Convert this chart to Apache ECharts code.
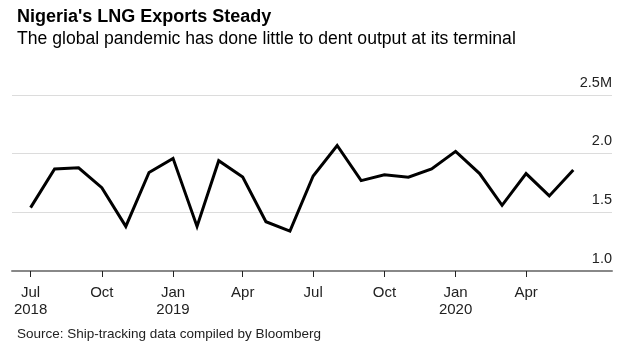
<!DOCTYPE html>
<html>
<head>
<meta charset="utf-8">
<script src="https://cdn.jsdelivr.net/npm/echarts@6/dist/echarts.min.js"></script>
<style>html,body{margin:0;padding:0;background:#fff}#c{width:634px;height:343px}</style>
</head>
<body>
<div id="c"></div>
<script>
const months = ['2018-07-01','2018-08-01','2018-09-01','2018-10-01','2018-11-01','2018-12-01',
  '2019-01-01','2019-02-01','2019-03-01','2019-04-01','2019-05-01','2019-06-01',
  '2019-07-01','2019-08-01','2019-09-01','2019-10-01','2019-11-01','2019-12-01',
  '2020-01-01','2020-02-01','2020-03-01','2020-04-01','2020-05-01','2020-06-01'];
const lngExports = [1.54,1.87,1.88,1.71,1.38,1.84,1.96,1.38,1.94,1.80,1.42,1.34,
  1.81,2.07,1.77,1.82,1.80,1.87,2.02,1.83,1.56,1.83,1.64,1.86];
const tickDates = ['2018-07-01','2018-10-01','2019-01-01','2019-04-01','2019-07-01','2019-10-01','2020-01-01','2020-04-01'];
const tickLabels = ['Jul\n2018','Oct','Jan\n2019','Apr','Jul','Oct','Jan\n2020','Apr'];
const yTicks = [1.0, 1.5, 2.0, 2.5];

const P = s => Date.parse(s + 'T00:00:00Z');
const tickTs = tickDates.map(P);
const fontFam = '"Liberation Sans",Arial,sans-serif';

const chart = echarts.init(document.getElementById('c'), null, {renderer: 'canvas'});
chart.setOption({
  animation: false,
  backgroundColor: '#fff',
  title: [{
    text: "Nigeria's LNG Exports Steady",
    subtext: 'The global pandemic has done little to dent output at its terminal',
    left: 12, top: 3, itemGap: 4,
    textStyle: {fontFamily: fontFam, fontSize: 18, fontWeight: 'bold', color: '#000'},
    subtextStyle: {fontFamily: fontFam, fontSize: 17.6, color: '#000'}
  }, {
    text: 'Source: Ship-tracking data compiled by Bloomberg',
    left: 12, top: 322,
    textStyle: {fontFamily: fontFam, fontSize: 13.5, fontWeight: 'normal', color: '#222'}
  }],
  grid: {left: 12, right: 22, top: 95, bottom: 72, containLabel: false},
  xAxis: {
    type: 'value',
    min: P('2018-06-07'),
    max: P('2020-07-21'),
    axisLine: {show: true, lineStyle: {color: '#888', width: 2}},
    axisTick: {show: true, length: 6, lineStyle: {color: '#222', width: 1}, customValues: tickTs},
    axisLabel: {
      customValues: tickTs,
      margin: 13,
      fontFamily: fontFam, fontSize: 15, color: '#222', lineHeight: 17,
      formatter: function (v) {
        const i = tickTs.indexOf(+v);
        return i >= 0 ? tickLabels[i] : '';
      }
    },
    splitLine: {show: false}
  },
  yAxis: {
    type: 'value',
    position: 'right',
    min: 1.0, max: 2.5, interval: 0.5,
    axisLine: {show: false},
    axisTick: {show: false},
    axisLabel: {
      inside: true, margin: 0, verticalAlign: 'bottom', padding: [0, 0, 5, 0],
      fontFamily: fontFam, fontSize: 14.5, color: '#222',
      formatter: function (v) {
        return v === yTicks[yTicks.length - 1] ? v.toFixed(1) + 'M' : v.toFixed(1);
      }
    },
    splitLine: {show: true, lineStyle: {color: '#dcdcdc', width: 1}}
  },
  series: [{
    type: 'line',
    data: months.map((m, i) => [P(m), lngExports[i]]),
    showSymbol: false,
    lineStyle: {color: '#000', width: 3, join: 'miter'},
    itemStyle: {color: '#000'}
  }]
});
</script>
</body>
</html>
